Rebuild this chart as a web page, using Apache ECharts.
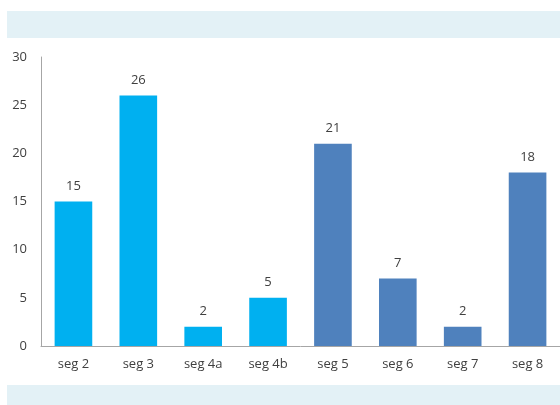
<!DOCTYPE html>
<html><head><meta charset="utf-8">
<script src="https://cdn.jsdelivr.net/npm/echarts@6/dist/echarts.min.js"></script>
<style>html,body{margin:0;padding:0;background:#fff}#c{width:560px;height:405px}</style>
</head><body><div id="c"></div>
<script>
const categories = ['seg 2','seg 3','seg 4a','seg 4b','seg 5','seg 6','seg 7','seg 8'];
const values = [15, 26, 2, 5, 21, 7, 2, 18];
const groupA = 4; // first four bars light blue
const yTicks = [0,5,10,15,20,25,30];
const chart = echarts.init(document.getElementById('c'), null, {renderer:'canvas'});
const font = '"Open Sans", "Noto Sans", sans-serif';
chart.setOption({
  animation:false,
  graphic:[
    {type:'rect', shape:{x:7,y:11,width:553,height:27}, style:{fill:'#E3F1F6'}, silent:true},
    {type:'rect', shape:{x:7,y:385,width:553,height:20}, style:{fill:'#E3F1F6'}, silent:true}
  ],
  grid:{left:41, right:-2, top:57, bottom:59, containLabel:false},
  xAxis:{type:'category', data:categories,
    axisLine:{lineStyle:{color:'#A6A6A6'}}, axisTick:{show:false},
    axisLabel:{color:'#404040', fontSize:13, fontFamily:font, margin:12}},
  yAxis:{type:'value', min:yTicks[0], max:yTicks[yTicks.length-1], interval:5,
    axisLine:{show:true, lineStyle:{color:'#A6A6A6'}}, axisTick:{show:false},
    splitLine:{show:false},
    axisLabel:{color:'#404040', fontSize:13, fontFamily:font, margin:14}},
  series:[{type:'bar', barWidth:'58%',
    data:values.map((v,i)=>({value:v, itemStyle:{color:i<groupA?'#00B0F0':'#4F81BD'}})),
    label:{show:true, position:'top', distance:9, color:'#404040', fontSize:13, fontFamily:font}}]
});
</script></body></html>
